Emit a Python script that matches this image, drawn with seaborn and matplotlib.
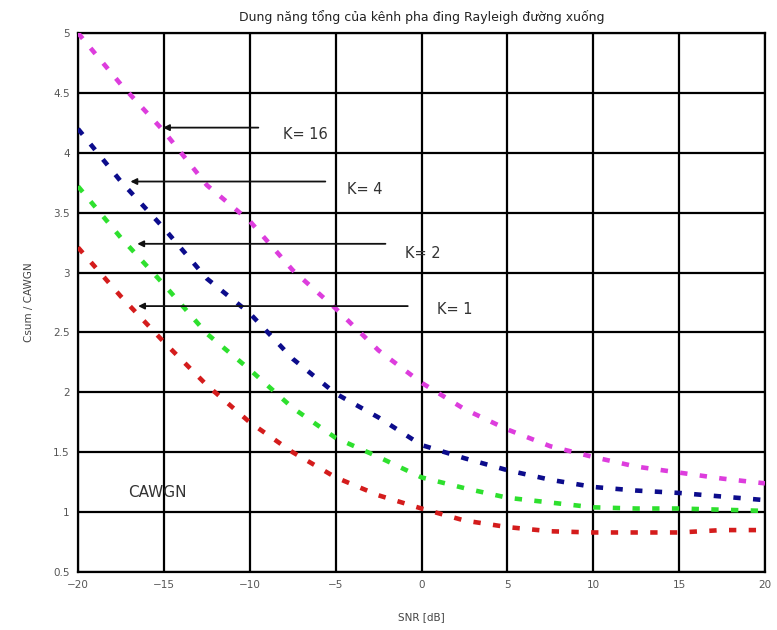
import numpy as np
import pandas as pd
import matplotlib
matplotlib.use("Agg")
import matplotlib.pyplot as plt
import seaborn as sns

# SNR grid in dB
snr_db = [-20, -17.5, -15, -12.5, -10, -7.5, -5, -2.5, 0,
          2.5, 5, 7.5, 10, 12.5, 15, 17.5, 20]

# Normalised sum capacity Csum / CAWGN for each number of users K
csum_k16 = [5.00, 4.57, 4.18, 3.73, 3.43, 3.02, 2.70, 2.35, 2.08,
            1.86, 1.69, 1.55, 1.46, 1.38, 1.33, 1.28, 1.24]
csum_k4 = [4.20, 3.76, 3.37, 2.95, 2.66, 2.28, 1.99, 1.79, 1.56,
           1.45, 1.35, 1.27, 1.21, 1.18, 1.16, 1.13, 1.10]
csum_k2 = [3.72, 3.29, 2.90, 2.49, 2.19, 1.87, 1.62, 1.46, 1.29,
           1.20, 1.12, 1.08, 1.04, 1.03, 1.03, 1.02, 1.01]
csum_k1 = [3.21, 2.80, 2.42, 2.06, 1.75, 1.50, 1.29, 1.14, 1.03,
           0.93, 0.875, 0.84, 0.83, 0.83, 0.83, 0.85, 0.85]

series_names = ["K= 16", "K= 4", "K= 2", "K= 1"]
series_values = [csum_k16, csum_k4, csum_k2, csum_k1]
series_colors = ["#dd3ddd", "#0c0c8c", "#2ee02e", "#d41c1c"]

x_ticks = [-20, -15, -10, -5, 0, 5, 10, 15, 20]
y_ticks = [0.5, 1, 1.5, 2, 2.5, 3, 3.5, 4, 4.5, 5]

title_text = "Dung năng tổng của kênh pha đing Rayleigh đường xuống"
x_label = "SNR [dB]"
y_label = "Csum / CAWGN"

# label text, arrow tip (x, y), arrow tail x, text anchor (x, y)
annotations = [
    ("K= 16", (-15.05, 4.21), -9.5, (-8.05, 4.15)),
    ("K= 4", (-16.95, 3.76), -5.6, (-4.35, 3.69)),
    ("K= 2", (-16.55, 3.24), -2.1, (-0.95, 3.16)),
    ("K= 1", (-16.5, 2.72), -0.8, (0.9, 2.69)),
]

frames = []
for name, vals in zip(series_names, series_values):
    frames.append(pd.DataFrame({"snr": snr_db, "csum": vals, "K": name}))
df = pd.concat(frames, ignore_index=True)

sns.set_theme(style="white")
plt.rcParams["font.family"] = ["DejaVu Sans"]

fig = plt.figure(figsize=(7.77, 6.30), dpi=100)
ax = fig.add_axes([78 / 777, 1 - 572 / 630, (765 - 78) / 777, (572 - 33) / 630])

sns.lineplot(data=df, x="snr", y="csum", hue="K", hue_order=series_names,
             palette=dict(zip(series_names, series_colors)),
             linewidth=3.3, legend=False, ax=ax, zorder=3)
for line in ax.get_lines():
    line.set_dashes((1.6, 2.7))
    line.set_dash_capstyle("butt")

ax.set_xlim(-20, 20)
ax.set_ylim(0.5, 5)
ax.set_xticks(x_ticks)
ax.set_yticks(y_ticks)
ax.set_xticklabels([f"{t}".replace("-", "\u2212") for t in x_ticks])
ax.set_yticklabels([f"{t:g}" for t in y_ticks])
ax.tick_params(axis="both", length=0, labelsize=7.5, labelcolor="#555555", pad=6)
ax.grid(True, color="black", linewidth=1.6, zorder=1)
ax.set_axisbelow(True)
for sp in ax.spines.values():
    sp.set_color("black")
    sp.set_linewidth(1.6)

ax.set_xlabel(x_label, fontsize=7.5, color="#444444", labelpad=16)
ax.set_ylabel(y_label, fontsize=7.5, color="#444444", labelpad=14)
ax.set_title(title_text, fontsize=9, color="#222222", pad=9)

for text, tip, tail_x, txt_xy in annotations:
    ax.annotate("", xy=tip, xytext=(tail_x, tip[1]),
                arrowprops=dict(arrowstyle="-|>", color="#111111", lw=1.3,
                                mutation_scale=9, shrinkA=0, shrinkB=0),
                zorder=4)
    ax.text(txt_xy[0], txt_xy[1], text, fontsize=10.5, color="#333333",
            ha="left", va="center", zorder=5)

ax.text(-17.1, 1.16, "CAWGN", fontsize=11, color="#333333",
        ha="left", va="center", zorder=5)

fig.savefig("out.png", dpi=100, facecolor="white")
